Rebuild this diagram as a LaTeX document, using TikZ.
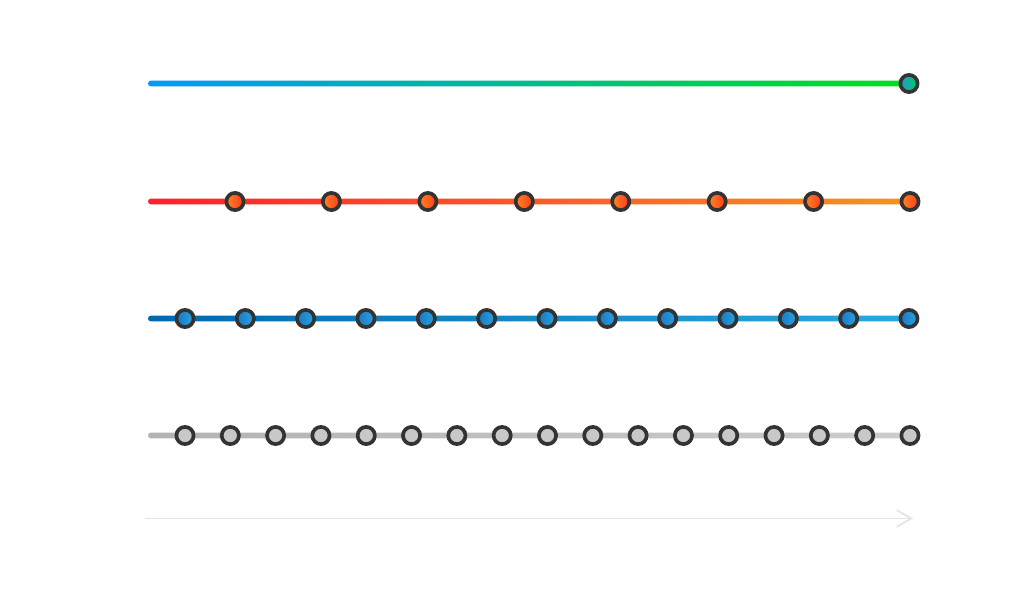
\documentclass[tikz,border=0pt]{standalone}
\usepackage{tikz}
\usetikzlibrary{arrows.meta, positioning, calc}
\definecolor{rimgray}{HTML}{333333}
\definecolor{lineblue}{HTML}{0099FF}
\definecolor{linegreen}{HTML}{00E01A}
\definecolor{linered}{HTML}{FF1F2D}
\definecolor{lineorange}{HTML}{F7931E}
\definecolor{linedeepblue}{HTML}{0068B0}
\definecolor{lineskyblue}{HTML}{29A9E0}
\definecolor{linegrayA}{HTML}{B3B3B3}
\definecolor{linegrayB}{HTML}{CCCCCC}
\definecolor{dotteal}{HTML}{1A9FD0}
\definecolor{dotgreen}{HTML}{00CC55}
\definecolor{dotorange}{HTML}{FF8522}
\definecolor{dotred}{HTML}{FF3A1F}
\definecolor{dotdeep}{HTML}{1A78C2}
\definecolor{dotsky}{HTML}{2AA3E0}
\definecolor{dotgray}{HTML}{C8C8C8}
\definecolor{axisgray}{HTML}{E4E4E4}

\begin{document}
\begin{tikzpicture}[
  x=0.025cm, y=-0.025cm,
  dot/.style={
    circle, inner sep=0pt, minimum size=0.43cm,
    draw=rimgray, line width=2.6pt
  },
  bar/.style={rounded corners=0.07cm},
  timeline/.style={draw=axisgray, line width=1.3pt,
    -{Straight Barb[length=0.36cm, width=0.42cm, line width=1.3pt]}}
]
  \useasboundingbox[fill=white] (0,0) rectangle (1024,598);

  % Row 1: one slice
  \coordinate (s1) at (148,83.5);
  \coordinate (e1) at (909,83.5);
  \shade[bar, left color=lineblue, right color=linegreen]
        ($(s1)+(0,-2.8)$) rectangle ($(e1)+(0,2.8)$);
  \node[dot, left color=dotteal, right color=dotgreen] (d1-0) at (e1) {};

  % Row 2: eight slices
  \coordinate (s2) at (148,201.5);
  \coordinate (e2) at (910,201.5);
  \shade[bar, left color=linered, right color=lineorange]
        ($(s2)+(0,-2.8)$) rectangle ($(e2)+(0,2.8)$);
  \foreach \i in {0,...,7}
    \node[dot, left color=dotorange, right color=dotred] (d2-\i) at ({235+\i*96.43},201.5) {};

  % Row 3: thirteen slices
  \coordinate (s3) at (148,318.5);
  \coordinate (e3) at (909,318.5);
  \shade[bar, left color=linedeepblue, right color=lineskyblue]
        ($(s3)+(0,-2.8)$) rectangle ($(e3)+(0,2.8)$);
  \foreach \i in {0,...,12}
    \node[dot, left color=dotdeep, right color=dotsky] (d3-\i) at ({185+\i*60.33},318.5) {};

  % Row 4: seventeen slices
  \coordinate (s4) at (148,435.5);
  \coordinate (e4) at (910,435.5);
  \shade[bar, left color=linegrayA, right color=linegrayB]
        ($(s4)+(0,-2.8)$) rectangle ($(e4)+(0,2.8)$);
  \foreach \i in {0,...,16}
    \node[dot, fill=dotgray] (d4-\i) at ({185+\i*45.31},435.5) {};

  % Time axis
  \coordinate (t0) at (145,518.5);
  \coordinate (t1) at (913,518.5);
  \draw[timeline] (t0) -- (t1);
\end{tikzpicture}
\end{document}
